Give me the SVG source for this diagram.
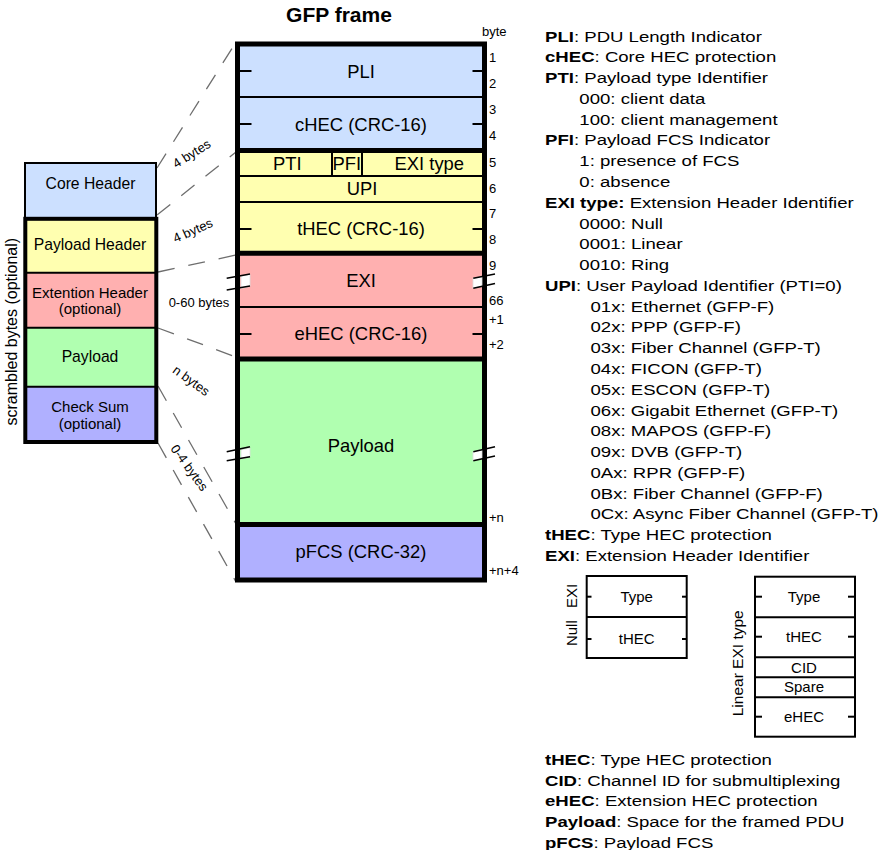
<svg xmlns="http://www.w3.org/2000/svg" width="891" height="850" viewBox="0 0 891 850">
  <style>
    text { font-family: "Liberation Sans", Arial, sans-serif; fill: #000; }
    .lbl { font-size: 18.4px; text-anchor: middle; }
    .blk { font-size: 15.7px; text-anchor: middle; }
    .blk2 { font-size: 15px; text-anchor: middle; }
    .num { font-size: 13px; }
    .sz { font-size: 13px; text-anchor: middle; }
    .leg { font-size: 15px; }
    .sm { font-size: 15px; text-anchor: middle; }
    .thin { stroke: #000; stroke-width: 2; fill: none; }
    .thick { stroke: #000; stroke-width: 5; fill: none; }
    .dash { stroke: #6e6e6e; stroke-width: 1.3; stroke-dasharray: 17 14; fill: none; }
    .blue { fill: #cce0ff; }
    .yellow { fill: #ffffb0; }
    .pink { fill: #ffb0b0; }
    .green { fill: #b0ffb0; }
    .purple { fill: #b0b0ff; }
    .b { font-weight: bold; }
  </style>

  <!-- title -->
  <text x="339" y="22" font-size="21" font-weight="bold" text-anchor="middle">GFP frame</text>

  <!-- dashed guides from the field overview to the frame -->
  <g id="connectors">
    <line class="dash" x1="157" y1="168" x2="236" y2="42"/>
    <line class="dash" x1="157" y1="215" x2="236" y2="152"/>
    <line class="dash" x1="158" y1="272" x2="236" y2="255"/>
    <line class="dash" x1="158" y1="328" x2="236" y2="357"/>
    <line class="dash" x1="158" y1="386" x2="236" y2="524"/>
    <line class="dash" x1="158" y1="443" x2="236" y2="582"/>
    <text class="sz" transform="translate(194,157.4) rotate(-32)">4 bytes</text>
    <text class="sz" transform="translate(194.6,234.6) rotate(-24)">4 bytes</text>
    <text class="sz" x="199" y="307">0-60 bytes</text>
    <text class="sz" transform="translate(188.6,384.2) rotate(36)">n bytes</text>
    <text class="sz" transform="translate(185.8,470.4) rotate(54)">0-4 bytes</text>
  </g>

  <!-- field overview (left) -->
  <g id="core-header">
    <rect class="blue" x="25" y="163" width="131" height="56" stroke="#000" stroke-width="2"/>
    <text class="blk" x="90.5" y="189.3">Core Header</text>
  </g>
  <g id="scrambled">
    <rect class="yellow" x="25.3" y="218.8" width="131" height="54"/>
    <rect class="pink" x="25.3" y="272.7" width="131" height="55"/>
    <rect class="green" x="25.3" y="327.7" width="131" height="59"/>
    <rect class="purple" x="25.3" y="386.7" width="131" height="55.3"/>
    <line class="thin" x1="25.3" y1="272.7" x2="156.3" y2="272.7"/>
    <line class="thin" x1="25.3" y1="327.7" x2="156.3" y2="327.7"/>
    <line class="thin" x1="25.3" y1="386.7" x2="156.3" y2="386.7"/>
    <rect x="25.3" y="218.8" width="131" height="223.2" fill="none" stroke="#000" stroke-width="4"/>
    <text class="blk" x="90" y="250">Payload Header</text>
    <text class="blk2" x="90" y="297.8">Extention Header</text>
    <text class="blk2" x="90" y="314.3">(optional)</text>
    <text class="blk" x="90" y="361.7">Payload</text>
    <text class="blk2" x="90" y="412.3">Check Sum</text>
    <text class="blk2" x="90" y="428.5">(optional)</text>
    <text font-size="16" text-anchor="middle" transform="translate(17,331.7) rotate(-90)">scrambled bytes (optional)</text>
  </g>

  <!-- GFP frame -->
  <g id="gfp-frame">
    <rect class="blue" x="237.5" y="44" width="247" height="106.5"/>
    <rect class="yellow" x="237.5" y="150.5" width="247" height="102.8"/>
    <rect class="pink" x="237.5" y="253.3" width="247" height="105.7"/>
    <rect class="green" x="237.5" y="359" width="247" height="165.5"/>
    <rect class="purple" x="237.5" y="524.5" width="247" height="56"/>

    <line class="thin" x1="238" y1="97" x2="484" y2="97"/>
    <line class="thin" x1="238" y1="176" x2="484" y2="176"/>
    <line class="thin" x1="238" y1="202" x2="484" y2="202"/>
    <line class="thin" x1="238" y1="307" x2="484" y2="307"/>
    <line class="thin" x1="332" y1="150.5" x2="332" y2="176"/>
    <line class="thin" x1="362" y1="150.5" x2="362" y2="176"/>
    <line class="thick" x1="238" y1="150.5" x2="484" y2="150.5"/>
    <line class="thick" x1="238" y1="253.3" x2="484" y2="253.3"/>
    <line class="thick" x1="238" y1="359" x2="484" y2="359"/>
    <line class="thick" x1="238" y1="524.5" x2="484" y2="524.5"/>

    <!-- 2-byte ticks -->
    <g class="thin">
      <line x1="240" y1="71" x2="251.5" y2="71"/><line x1="472.5" y1="71" x2="482" y2="71"/>
      <line x1="240" y1="124" x2="251.5" y2="124"/><line x1="472.5" y1="124" x2="482" y2="124"/>
      <line x1="240" y1="229" x2="251.5" y2="229"/><line x1="472.5" y1="229" x2="482" y2="229"/>
      <line x1="240" y1="334" x2="251.5" y2="334"/><line x1="472.5" y1="334" x2="482" y2="334"/>
    </g>

    <rect x="237.5" y="44" width="247" height="536" fill="none" stroke="#000" stroke-width="5"/>

    <!-- break marks -->
    <g stroke="#000" stroke-width="1.6">
      <polygon points="241,276.3 250,274.4 250,286.4 241,288.3" fill="#fff" stroke="#ddd" stroke-width="0.8"/>
      <line x1="226.7" y1="278.3" x2="250" y2="274"/>
      <line x1="226.7" y1="290" x2="250" y2="286"/>
      <polygon points="473,278.3 482,276.5 482,286.5 473,288.3" fill="#fff" stroke="#ddd" stroke-width="0.8"/>
      <line x1="473.3" y1="278.3" x2="495" y2="274"/>
      <line x1="473.3" y1="288.3" x2="495" y2="283.5"/>
      <polygon points="241,449.8 250,447.8 250,456.8 241,458.8" fill="#fff" stroke="#ddd" stroke-width="0.8"/>
      <line x1="226.7" y1="451.7" x2="250" y2="446.7"/>
      <line x1="226.7" y1="460.7" x2="250" y2="456.7"/>
      <polygon points="473,451.7 482,449.7 482,458.7 473,460.7" fill="#fff" stroke="#ddd" stroke-width="0.8"/>
      <line x1="473.3" y1="451.7" x2="495" y2="446.7"/>
      <line x1="473.3" y1="460.7" x2="495" y2="456"/>
    </g>

    <text class="lbl" x="361" y="78">PLI</text>
    <text class="lbl" x="361" y="130.5">cHEC (CRC-16)</text>
    <text class="lbl" x="287.3" y="170">PTI</text>
    <text class="lbl" x="346.7" y="170">PFI</text>
    <text class="lbl" x="429.3" y="170">EXI type</text>
    <text class="lbl" x="362" y="195">UPI</text>
    <text class="lbl" x="361" y="235">tHEC (CRC-16)</text>
    <text class="lbl" x="361" y="287">EXI</text>
    <text class="lbl" x="361" y="340">eHEC (CRC-16)</text>
    <text class="lbl" x="361" y="452">Payload</text>
    <text class="lbl" x="361" y="558">pFCS (CRC-32)</text>
  </g>

  <!-- byte offsets -->
  <g id="byte-scale" class="num">
    <text x="482" y="36">byte</text>
    <text x="489" y="61.7">1</text>
    <text x="489" y="88.3">2</text>
    <text x="489" y="114.3">3</text>
    <text x="489" y="140">4</text>
    <text x="489" y="166.7">5</text>
    <text x="489" y="192.7">6</text>
    <text x="489" y="218.3">7</text>
    <text x="489" y="244">8</text>
    <text x="489" y="270">9</text>
    <text x="489" y="305">66</text>
    <text x="489" y="324">+1</text>
    <text x="489" y="349">+2</text>
    <text x="489" y="521.7">+n</text>
    <text x="489" y="575">+n+4</text>
  </g>

  <!-- field legend -->
  <g id="legend" class="leg" transform="translate(545,0) scale(1.24,1)">
    <text x="0" y="41.7"><tspan class="b">PLI</tspan>: PDU Length Indicator</text>
    <text x="0" y="62.5"><tspan class="b">cHEC</tspan>: Core HEC protection</text>
    <text x="0" y="83.2"><tspan class="b">PTI</tspan>: Payload type Identifier</text>
    <text x="27.7" y="104">000: client data</text>
    <text x="27.7" y="124.8">100: client management</text>
    <text x="0" y="145.5"><tspan class="b">PFI</tspan>: Payload FCS Indicator</text>
    <text x="27.7" y="166.3">1: presence of FCS</text>
    <text x="27.7" y="187.1">0: absence</text>
    <text x="0" y="207.9"><tspan class="b">EXI type:</tspan> Extension Header Identifier</text>
    <text x="27.7" y="228.6">0000: Null</text>
    <text x="27.7" y="249.4">0001: Linear</text>
    <text x="27.7" y="270.2">0010: Ring</text>
    <text x="0" y="290.9"><tspan class="b">UPI</tspan>: User Payload Identifier (PTI=0)</text>
    <text x="36.7" y="311.7">01x: Ethernet (GFP-F)</text>
    <text x="36.7" y="332.5">02x: PPP (GFP-F)</text>
    <text x="36.7" y="353.2">03x: Fiber Channel (GFP-T)</text>
    <text x="36.7" y="374">04x: FICON (GFP-T)</text>
    <text x="36.7" y="394.8">05x: ESCON (GFP-T)</text>
    <text x="36.7" y="415.6">06x: Gigabit Ethernet (GFP-T)</text>
    <text x="36.7" y="436.3">08x: MAPOS (GFP-F)</text>
    <text x="36.7" y="457.1">09x: DVB (GFP-T)</text>
    <text x="36.7" y="477.9">0Ax: RPR (GFP-F)</text>
    <text x="36.7" y="498.6">0Bx: Fiber Channel (GFP-F)</text>
    <text x="36.7" y="519.4">0Cx: Async Fiber Channel (GFP-T)</text>
    <text x="0" y="540.2"><tspan class="b">tHEC</tspan>: Type HEC protection</text>
    <text x="0" y="560.9"><tspan class="b">EXI</tspan>: Extension Header Identifier</text>

    <text x="0" y="765"><tspan class="b">tHEC</tspan>: Type HEC protection</text>
    <text x="0" y="785.7"><tspan class="b">CID</tspan>: Channel ID for submultiplexing</text>
    <text x="0" y="806.4"><tspan class="b">eHEC</tspan>: Extension HEC protection</text>
    <text x="0" y="827.1"><tspan class="b">Payload</tspan>: Space for the framed PDU</text>
    <text x="0" y="847.8"><tspan class="b">pFCS</tspan>: Payload FCS</text>
  </g>

  <!-- Null EXI layout -->
  <g id="null-exi">
    <rect class="thin" x="586.7" y="576" width="100" height="82"/>
    <line class="thin" x1="586.7" y1="617" x2="686.7" y2="617"/>
    <g class="thin">
      <line x1="586.7" y1="596.7" x2="591.5" y2="596.7"/><line x1="682" y1="596.7" x2="686.7" y2="596.7"/>
      <line x1="586.7" y1="639" x2="591.5" y2="639"/><line x1="682" y1="639" x2="686.7" y2="639"/>
    </g>
    <text class="sm" x="636.7" y="601.7">Type</text>
    <text class="sm" x="636.7" y="643.5">tHEC</text>
    <text class="sm" word-spacing="8" transform="translate(577,615) rotate(-90)">Null EXI</text>
  </g>

  <!-- Linear EXI layout -->
  <g id="linear-exi">
    <rect class="thin" x="755" y="576.7" width="100" height="160"/>
    <line class="thin" x1="755" y1="617.3" x2="855" y2="617.3"/>
    <line class="thin" x1="755" y1="657.3" x2="855" y2="657.3"/>
    <line class="thin" x1="755" y1="677.3" x2="855" y2="677.3"/>
    <line class="thin" x1="755" y1="697.3" x2="855" y2="697.3"/>
    <g class="thin">
      <line x1="755" y1="596.7" x2="762" y2="596.7"/><line x1="848" y1="596.7" x2="855" y2="596.7"/>
      <line x1="755" y1="636.7" x2="762" y2="636.7"/><line x1="848" y1="636.7" x2="855" y2="636.7"/>
      <line x1="755" y1="716.7" x2="762" y2="716.7"/><line x1="848" y1="716.7" x2="855" y2="716.7"/>
    </g>
    <text class="sm" x="804" y="601.7">Type</text>
    <text class="sm" x="804" y="642">tHEC</text>
    <text class="sm" x="804" y="672.5">CID</text>
    <text class="sm" x="804" y="692">Spare</text>
    <text class="sm" x="804" y="721.7">eHEC</text>
    <text font-size="15.5" text-anchor="middle" transform="translate(743,663.3) rotate(-90)">Linear EXI type</text>
  </g>
</svg>
